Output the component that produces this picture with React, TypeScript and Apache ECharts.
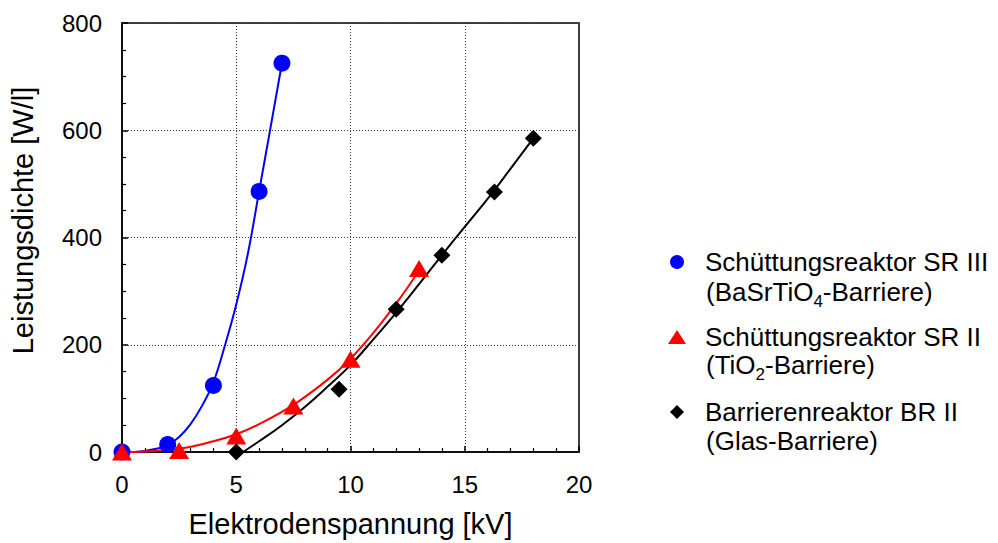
import React, { useEffect, useRef } from "react";
import * as echarts from "echarts";

// Measured points
const sr3X = [0, 2, 4, 6, 7];
const sr3Y = [0, 14, 124, 486, 725];
const sr2X = [0, 2.5, 5, 7.5, 10, 13];
const sr2Y = [0, 3, 30, 86, 173, 342];
const br2X = [5, 9.5, 12, 14, 16.3, 18];
const br2Y = [0, 117, 266, 367, 485, 585];

// Fit curves
const sr3FitX = [0, 0.5, 1, 1.5, 2, 2.5, 3, 3.5, 4, 4.5, 5, 5.5, 6, 6.5, 7];
const sr3FitY = [0, 0, 2, 6, 13, 28, 52, 86, 130, 198, 275, 368, 486, 605, 725];
const sr2FitX = [0, 1, 2.5, 4, 5, 6, 7.5, 9, 10, 11, 12, 13];
const sr2FitY = [0, 1, 6, 20, 33, 52, 88, 135, 174, 222, 277, 338];
const br2FitX = [5.3, 6, 7, 8, 9, 10, 11, 12, 13, 14, 15, 16, 17, 18];
const br2FitY = [0, 20, 50, 84, 122, 162, 210, 260, 313, 367, 420, 472, 528, 585];

const seriesNames = [
  "Schüttungsreaktor SR III",
  "Schüttungsreaktor SR II",
  "Barrierenreaktor BR II",
];
const secondLines = [
  "(BaSrTiO{sub|4}-Barriere)",
  "(TiO{sub|2}-Barriere)",
  "(Glas-Barriere)",
];
const xTitle = "Elektrodenspannung [kV]";
const yTitle = "Leistungsdichte [W/l]";

const FONT = "'Liberation Sans', Arial, Helvetica, sans-serif";

const zip = (xs: number[], ys: number[]) => xs.map((x, i) => [x, ys[i]]);

export default function App() {
  const ref = useRef<HTMLDivElement>(null);
  useEffect(() => {
    if (!ref.current) return;
    const chart = echarts.init(ref.current, undefined, { renderer: "svg" });
    const fitLine = (name: string, data: number[][], color: string) => ({
      name,
      type: "line",
      data,
      smooth: 0.4,
      showSymbol: false,
      symbol: "none",
      silent: true,
      lineStyle: { color, width: 2 },
      z: 2,
    });
    const scatter = (name: string, data: number[][], color: string, symbol: string, size: any) => ({
      name,
      type: "scatter",
      data,
      symbol,
      symbolSize: size,
      itemStyle: { color, opacity: 1 },
      clip: false,
      z: 3,
    });
    const legendYs = [292, 365, 441];
    chart.setOption({
      animation: false,
      backgroundColor: "#fff",
      grid: {
        left: 122,
        right: 419,
        top: 23,
        bottom: 91,
        show: true,
        borderColor: "#000",
        borderWidth: 1.5,
      },
      xAxis: {
        type: "value",
        min: 0,
        max: 20,
        interval: 5,
        name: xTitle,
        nameLocation: "middle",
        nameGap: 57,
        nameTextStyle: { fontSize: 29, fontFamily: FONT, color: "#000" },
        axisLine: { show: true, lineStyle: { color: "#000", width: 1.5 } },
        axisTick: { show: true, inside: true, length: 6, lineStyle: { color: "#000", width: 1.5 } },
        minorTick: { show: true, splitNumber: 5, length: 4, lineStyle: { color: "#000", width: 1.2 } },
        axisLabel: { fontSize: 24, fontFamily: FONT, color: "#000", margin: 20 },
        splitLine: { show: true, lineStyle: { color: "#333", type: [1, 2], width: 1 } },
      },
      yAxis: {
        type: "value",
        min: 0,
        max: 800,
        interval: 200,
        name: yTitle,
        nameLocation: "middle",
        nameGap: 85,
        nameTextStyle: { fontSize: 29, fontFamily: FONT, color: "#000", padding: [0, 0, 0, 34] },
        axisLine: { show: true, lineStyle: { color: "#000", width: 1.5 } },
        axisTick: { show: true, inside: true, length: 6, lineStyle: { color: "#000", width: 1.5 } },
        minorTick: { show: true, splitNumber: 4, length: 4, lineStyle: { color: "#000", width: 1.2 } },
        axisLabel: { fontSize: 24, fontFamily: FONT, color: "#000", margin: 20 },
        splitLine: { show: true, lineStyle: { color: "#333", type: [1, 2], width: 1 } },
      },
      legend: {
        orient: "vertical",
        left: 663,
        top: 244,
        itemWidth: 18,
        itemHeight: 14,
        itemGap: 49,
        selectedMode: false,
        textStyle: { fontSize: 26, fontFamily: FONT, color: "#000", padding: [0, 0, 0, 14] },
        data: [
          { name: seriesNames[0], icon: "circle" },
          { name: seriesNames[1], icon: "triangle" },
          { name: seriesNames[2], icon: "path://M0,-1L1,0L0,1L-1,0Z" },
        ],
      },
      graphic: secondLines.map((t, i) => ({
        type: "text",
        x: 706,
        y: legendYs[i],
        style: {
          text: t,
          fontSize: 26,
          fontFamily: FONT,
          fill: "#000",
          verticalAlign: "middle",
          align: "left",
          lineHeight: 36,
          rich: {
            sub: { fontSize: 17, fontFamily: FONT, fill: "#000", verticalAlign: "bottom" },
          },
        },
      })),
      series: [
        fitLine("fit1", zip(sr3FitX, sr3FitY), "#0000ff"),
        fitLine("fit2", zip(sr2FitX, sr2FitY), "#ff0000"),
        fitLine("fit3", zip(br2FitX, br2FitY), "#000000"),
        scatter(seriesNames[0], zip(sr3X, sr3Y), "#0000ff", "circle", 17),
        scatter(seriesNames[1], zip(sr2X, sr2Y), "#ff0000", "triangle", [20, 17]),
        scatter(seriesNames[2], zip(br2X, br2Y), "#000000", "diamond", 17),
      ],
    });
    return () => chart.dispose();
  }, []);
  return <div ref={ref} style={{ width: 998, height: 543, position: "absolute", left: 0, top: 0 }} />;
}
